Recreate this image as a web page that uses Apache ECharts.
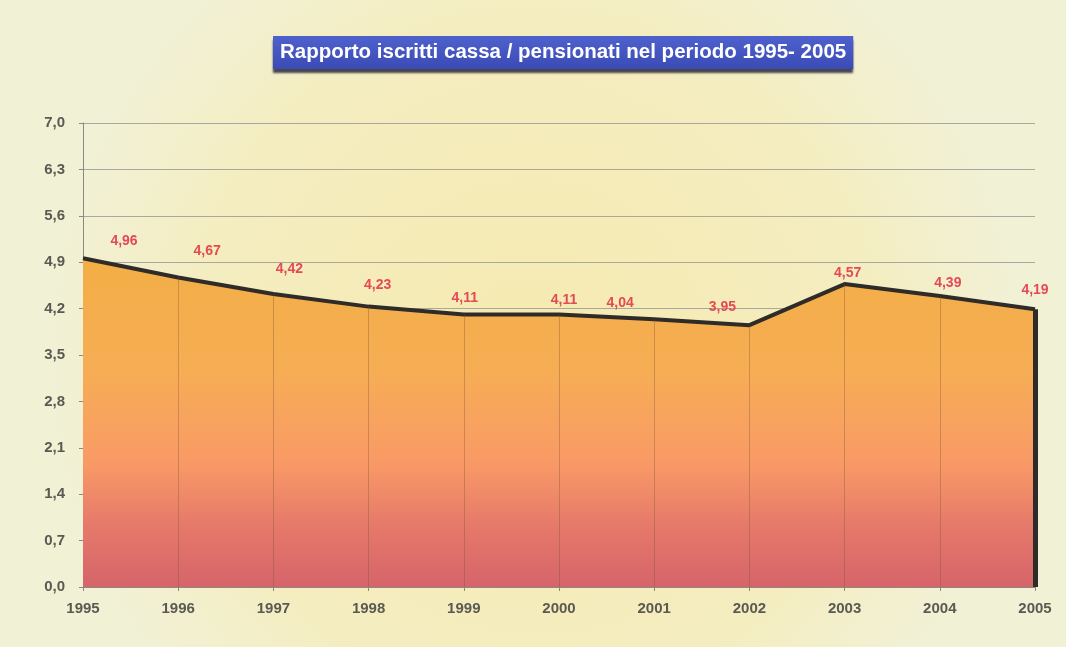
<!DOCTYPE html>
<html>
<head>
<meta charset="utf-8">
<script src="https://cdn.jsdelivr.net/npm/echarts@6/dist/echarts.min.js"></script>
<style>
  html, body { margin: 0; padding: 0; background: #fbfaf0; }
  #chart { width: 1066px; height: 647px; }
</style>
</head>
<body>
<div id="chart"></div>
<script>
// dati
const years = ['1995', '1996', '1997', '1998', '1999', '2000', '2001', '2002', '2003', '2004', '2005'];
const ratio = [4.96, 4.67, 4.42, 4.23, 4.11, 4.11, 4.04, 3.95, 4.57, 4.39, 4.19];
const titleText = 'Rapporto iscritti cassa / pensionati nel periodo 1995- 2005';

// spostamento delle etichette rispetto alla posizione 'top' (px)
const labelShift = [
  [41, 2], [29, -7], [16, -5], [9, -2], [1, 3], [5, 5],
  [-34, 3], [-27, 1], [3, 9], [8, 7], [0, 0]
];

const fmt = (v) => v.toFixed(1).replace('.', ',');
const fmt2 = (v) => v.toFixed(2).replace('.', ',');

const lastYear = years[years.length - 1];
const lastVal = ratio[ratio.length - 1];

const chart = echarts.init(document.getElementById('chart'));

chart.setOption({
  backgroundColor: {
    type: 'radial',
    x: 0.5, y: 0.55, r: 0.75,
    colorStops: [
      { offset: 0, color: '#f6eab0' },
      { offset: 0.7, color: '#f4edc0' },
      { offset: 1, color: '#f1f1d6' }
    ]
  },
  textStyle: { fontFamily: '"Liberation Sans", Arial, sans-serif' },
  title: {
    text: titleText,
    left: 273,
    top: 36,
    padding: [6, 7, 6, 7],
    backgroundColor: {
      type: 'linear', x: 0, y: 0, x2: 0, y2: 1,
      colorStops: [
        { offset: 0, color: '#4f61cc' },
        { offset: 1, color: '#3a4bb6' }
      ]
    },
    shadowColor: 'rgba(40, 40, 60, 0.85)',
    shadowBlur: 2,
    shadowOffsetX: 0,
    shadowOffsetY: 4,
    textStyle: {
      color: '#ffffff',
      fontSize: 20.5,
      fontWeight: 'bold',
      fontFamily: '"Liberation Sans", Arial, sans-serif'
    }
  },
  grid: {
    left: 83,
    right: 31,
    top: 123,
    bottom: 60
  },
  xAxis: {
    type: 'category',
    data: years,
    boundaryGap: false,
    axisLine: { lineStyle: { color: '#8a8a80', width: 1 } },
    axisTick: { show: true, length: 4, lineStyle: { color: '#8a8a80' } },
    axisLabel: { color: '#5a5a52', fontSize: 15, fontWeight: 'bold', margin: 14 },
    splitLine: { show: false }
  },
  yAxis: {
    type: 'value',
    min: 0,
    max: 7,
    interval: 0.7,
    axisLine: { show: true, lineStyle: { color: '#8a8a80' } },
    axisTick: { show: true, length: 4, lineStyle: { color: '#8a8a80' } },
    axisLabel: { color: '#5a5a52', fontSize: 15, fontWeight: 'bold', margin: 18, formatter: fmt },
    splitLine: { lineStyle: { color: '#a8a8a0', width: 1 } }
  },
  series: [
    {
      type: 'line',
      data: ratio.map((v, i) => ({
        value: v,
        label: { offset: labelShift[i] }
      })),
      symbol: 'circle',
      symbolSize: 1,
      showSymbol: true,
      itemStyle: { color: 'rgba(0,0,0,0)', borderWidth: 0 },
      lineStyle: { color: '#2e2b28', width: 4 },
      areaStyle: {
        opacity: 1,
        color: {
          type: 'linear', x: 0, y: 0, x2: 0, y2: 1,
          colorStops: [
            { offset: 0, color: '#f3ae45' },
            { offset: 0.35, color: '#f6ad55' },
            { offset: 0.62, color: '#f99a66' },
            { offset: 0.82, color: '#e5786a' },
            { offset: 1, color: '#d6646a' }
          ]
        }
      },
      label: {
        show: true,
        position: 'top',
        distance: 12,
        color: '#e34a55',
        fontSize: 14,
        fontWeight: 'bold',
        formatter: (p) => fmt2(p.value)
      },
      markLine: {
        silent: true,
        symbol: 'none',
        label: { show: false },
        lineStyle: { color: 'rgba(130, 80, 50, 0.35)', width: 1, type: 'solid' },
        data: years.slice(1, -1).map((y, i) => [
          { coord: [y, 0] },
          { coord: [y, ratio[i + 1]] }
        ]).concat([[
          { coord: [lastYear, 0], lineStyle: { color: '#2e2b28', width: 5 } },
          { coord: [lastYear, lastVal] }
        ]])
      },
      z: 3
    }
  ]
});
</script>
</body>
</html>
